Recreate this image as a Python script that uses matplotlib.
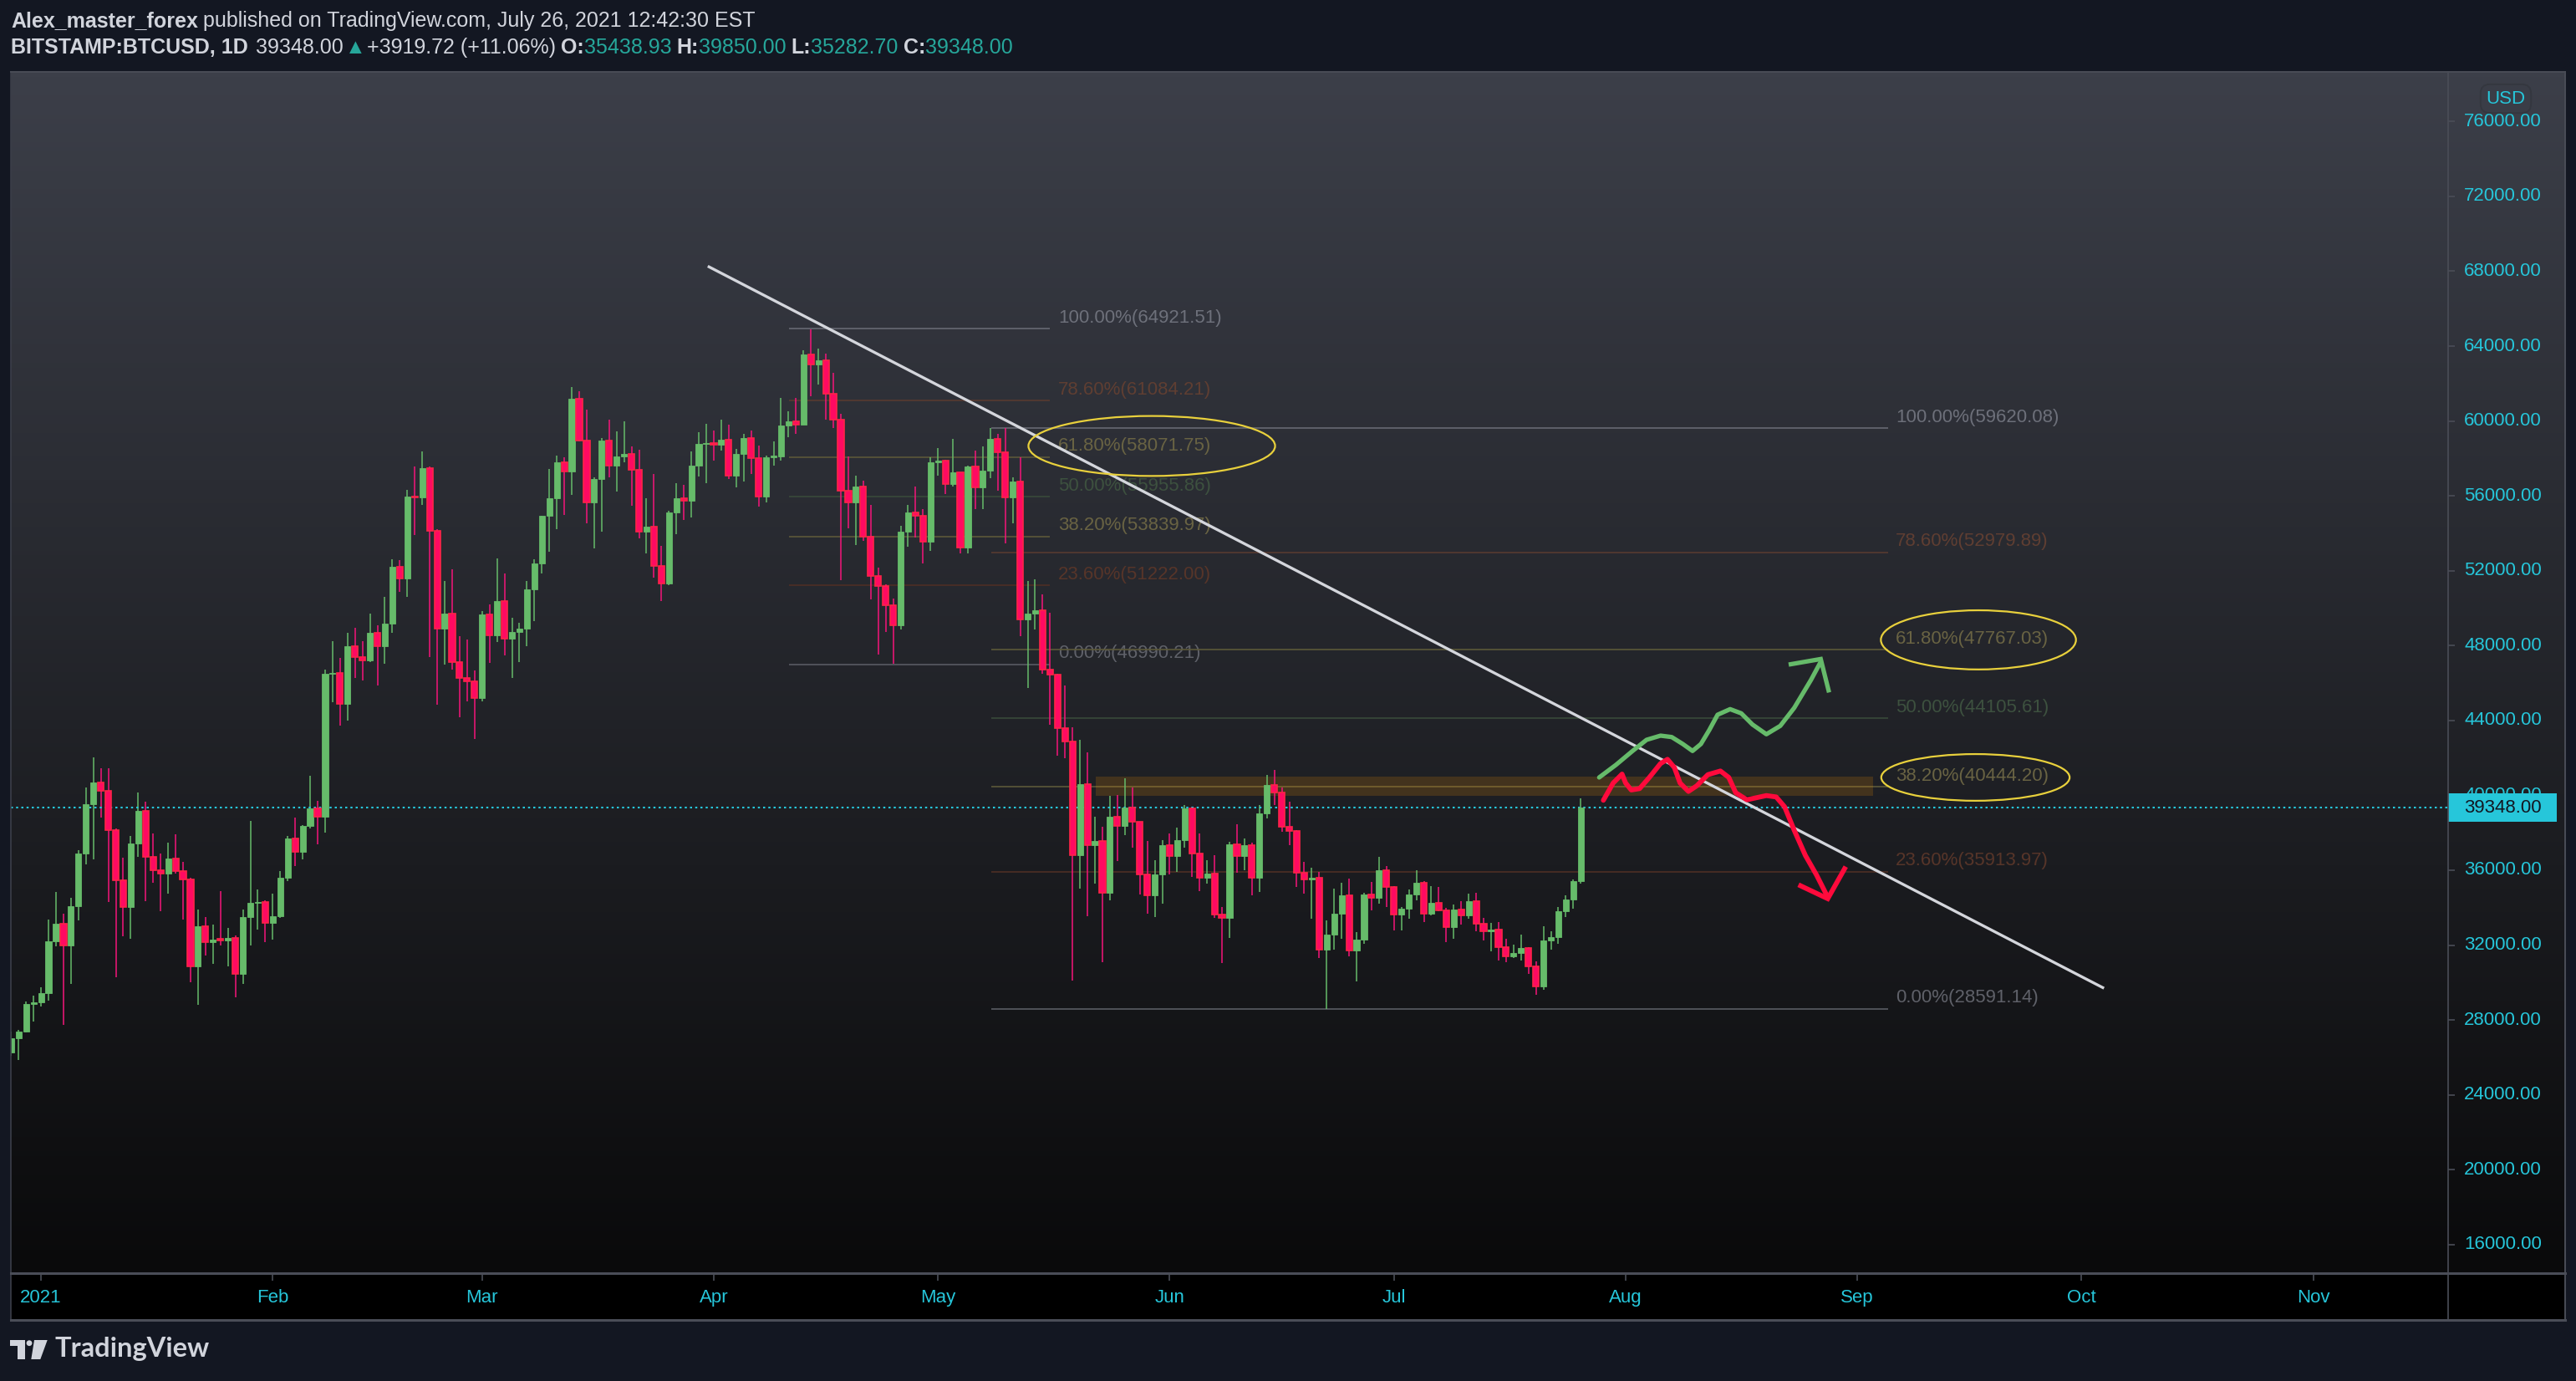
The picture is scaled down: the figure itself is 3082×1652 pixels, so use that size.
import matplotlib
matplotlib.use('Agg')
import matplotlib.pyplot as plt
import matplotlib.dates as mdates
from matplotlib.patches import Rectangle, Ellipse, Polygon
from matplotlib.lines import Line2D
import numpy as np
import pandas as pd

plt.rcParams['font.family'] = ['Liberation Sans', 'DejaVu Sans']

# BITSTAMP:BTCUSD daily candles, first candle 2020-12-28
first_day = '2020-12-28'
opens = [26240, 27020, 27380, 28870,
         28960, 29430, 32220, 33120, 31990, 34080, 36880, 39520, 40690, 40220, 38140, 35460, 34040, 37420, 39190, 36710,
         36010, 35820, 36640, 35940, 35520, 30860, 33010, 32150, 32290, 32250, 32400, 30440, 33480, 34250, 34310,
         33170, 33530, 35580, 37710, 37000, 38350, 39320, 38840, 46480, 46540, 44900, 47980, 47380, 47190, 48700, 47950,
         49170, 52200, 51580, 55950, 55900, 57480, 54150, 48890, 49700, 47110, 46290, 46090,
         45220, 49660, 48550, 50360, 48380, 48740, 48910, 50990, 52410, 54920, 55860, 57790, 57280, 61190, 58970, 55640,
         56920, 58940, 57620, 58120, 58260, 57400, 54070, 54360, 52270, 51330, 55130, 55860, 55730, 57600, 58770,
         58830, 58750, 58990, 57060, 58220, 59110, 58000, 55950, 58080, 58100, 59740, 59960, 59820, 63550, 63000, 63250,
         61450, 60080, 56260, 55670, 56500, 53810, 51730, 51190, 50140, 49100, 54080, 55110, 54940, 53570,
         57800, 57900, 56650, 57240, 53220, 57560, 56460, 57360, 59030, 58340, 55900, 56770, 49400, 49720, 49870, 46710,
         46460, 43600, 42860, 36810, 40610, 37350, 37550, 34780, 38870, 38380, 39360, 38575, 35760, 34660, 35760,
         37350, 36740, 37600, 39310, 36910, 35590, 35830, 33630, 33440, 37400, 36740, 37350, 35590, 39020, 40550, 40170,
         38334, 38080, 35866, 35500, 35600, 31740, 32560, 33660, 34660, 31690, 32300, 34700, 34510, 35980,
         35110, 33640, 33940, 34700, 35330, 33660, 34255, 33850, 32960, 33900, 33600, 34330, 33160, 32750, 32840, 31910,
         31420, 31590, 31830, 30880, 29810, 32240, 32420, 33800, 34430, 35438.93]
highs = [27400, 27470, 29000, 29310,
         29740, 33360, 34820, 33690, 34520, 37070, 40420, 42030, 41450, 41450, 38220, 36650, 37820, 40140, 39670, 37970,
         36880, 37470, 37900, 36430, 35600, 33880, 33480, 33090, 34900, 32930, 32530, 33880, 38640, 34950, 34390,
         34750, 35970, 37820, 38790, 38400, 41040, 39720, 46720, 48230, 47360, 48700, 48960, 48230, 49720, 49080, 50600,
         52630, 52550, 56320, 57570, 58380, 57570, 54240, 51470, 52070, 48500, 48340, 46670,
         49850, 50220, 52650, 51850, 49490, 49200, 51450, 52600, 54950, 57430, 58140, 58080, 61810, 61580, 60600, 57010,
         59110, 60050, 59460, 59970, 58650, 58460, 55860, 57190, 53310, 55200, 56680, 56580, 58390, 59400, 59850,
         59490, 60050, 59790, 58510, 59320, 59490, 58680, 58150, 58900, 61240, 60530, 61240, 63770, 64900, 63850, 63580,
         62580, 60400, 58090, 57070, 56820, 55520, 52170, 51260, 50500, 54380, 55520, 56500, 55290, 58050,
         58540, 57930, 59030, 57250, 57600, 58420, 58660, 59640, 59330, 59640, 57000, 58050, 51430, 51550, 50750, 49760,
         46500, 45870, 43640, 42980, 42300, 38870, 38330, 39970, 40030, 40900, 40410, 38600, 37540, 36540, 37600,
         37960, 38280, 39500, 39400, 37960, 36540, 36810, 34040, 37500, 38460, 37680, 37450, 39460, 41090, 41365, 40400,
         39660, 38150, 36440, 36130, 35900, 33318, 35020, 35320, 35540, 32700, 34790, 35360, 36700, 36200,
         35170, 34030, 34970, 36000, 35400, 35170, 35100, 33990, 34170, 34350, 34750, 34800, 33450, 33200, 33230, 32340,
         32020, 32550, 31910, 31150, 33010, 32750, 34030, 34650, 35520, 39850]
lows = [26100, 25840, 27320, 27920,
        28720, 29030, 31940, 27730, 29930, 33330, 36310, 36600, 38790, 34300, 30260, 32460, 32340, 36710, 34350, 35340,
        33830, 34770, 35800, 33360, 30020, 28790, 31440, 30990, 31990, 30870, 29190, 29930, 31990, 32820, 32150,
        32290, 33460, 35420, 36200, 36600, 38240, 37380, 38010, 44990, 43740, 43990, 46260, 46140, 47120, 45890, 47050,
        48670, 50850, 50610, 53900, 55520, 47400, 44840, 46970, 46720, 44160, 45010, 42990,
        45010, 47060, 48190, 47490, 46290, 47110, 47960, 49330, 51850, 53000, 54240, 54980, 56070, 58900, 54520, 53210,
        54100, 57000, 56240, 57790, 55490, 53730, 52920, 51640, 50360, 51250, 53950, 54700, 54830, 57020, 56680,
        57880, 58420, 56920, 56460, 56770, 57180, 55430, 55650, 57620, 57870, 59150, 59330, 59800, 61300, 61960, 60060,
        59640, 51510, 54250, 53390, 53590, 50450, 47520, 48740, 47020, 48880, 53270, 53760, 52370, 53080,
        57070, 56090, 56500, 52910, 52910, 55280, 55280, 56940, 56260, 53470, 54540, 48490, 45720, 48870, 46480, 43770,
        42130, 42000, 30120, 35020, 33550, 35270, 31100, 34410, 36490, 37890, 37225, 34700, 33675, 33480, 34215,
        35760, 35930, 37225, 35640, 34900, 35270, 33440, 31030, 32400, 35880, 36000, 34660, 34850, 38754, 39495, 38050,
        37350, 35120, 34750, 33420, 31330, 28600, 31770, 32350, 31400, 30050, 32080, 33870, 34200, 34050,
        32790, 32790, 33420, 34380, 33230, 33600, 33810, 32150, 32330, 33080, 33420, 32740, 32250, 31670, 31190, 31100,
        31310, 31190, 30480, 29360, 29590, 31770, 32080, 33500, 33940, 35282.70]
closes = [27020, 27380, 28870, 28960,
          29430, 32220, 33120, 31990, 34080, 36880, 39520, 40690, 40220, 38140, 35460, 34040, 37420, 39190, 36710, 36010,
          35820, 36640, 35940, 35520, 30860, 33010, 32150, 32290, 32250, 32400, 30440, 33480, 34250, 34310, 33170,
          33530, 35580, 37710, 37000, 38350, 39320, 38840, 46480, 46540, 44900, 47980, 47380, 47190, 48700, 47950, 49170,
          52200, 51580, 55950, 55900, 57480, 54150, 48890, 49700, 47110, 46290, 46090, 45220,
          49660, 48550, 50360, 48380, 48740, 48910, 50990, 52410, 54920, 55860, 57790, 57280, 61190, 58970, 55640, 56920,
          58940, 57620, 58120, 58260, 57400, 54070, 54360, 52270, 51330, 55130, 55860, 55730, 57600, 58770, 58830,
          58750, 58990, 57060, 58220, 59110, 58000, 55950, 58080, 58100, 59740, 59960, 59820, 63550, 63000, 63250, 61450,
          60080, 56260, 55670, 56500, 53810, 51730, 51190, 50140, 49100, 54080, 55110, 54940, 53570, 57800,
          57900, 56650, 57240, 53220, 57560, 56460, 57360, 59030, 58340, 55900, 56770, 49400, 49720, 49870, 46710, 46460,
          43600, 42860, 36810, 40610, 37350, 37550, 34780, 38870, 38380, 39360, 38575, 35760, 34660, 35760, 37350,
          36740, 37600, 39310, 36910, 35590, 35830, 33630, 33440, 37400, 36740, 37350, 35590, 39020, 40550, 40170, 38334,
          38080, 35866, 35500, 35600, 31740, 32560, 33660, 34660, 31690, 32300, 34700, 34510, 35980, 35110,
          33640, 33940, 34700, 35330, 33660, 34255, 33850, 32960, 33900, 33600, 34330, 33160, 32750, 32840, 31910, 31420,
          31590, 31830, 30880, 29810, 32240, 32420, 33800, 34430, 35440, 39348]

last_price = 39348.00
y_ticks = list(range(16000, 80000, 4000))
month_starts = ['2021-01-01', '2021-02-01', '2021-03-01', '2021-04-01', '2021-05-01', '2021-06-01',
                '2021-07-01', '2021-08-01', '2021-09-01', '2021-10-01', '2021-11-01']
month_labels = ['2021', 'Feb', 'Mar', 'Apr', 'May', 'Jun', 'Jul', 'Aug', 'Sep', 'Oct', 'Nov']

# fibonacci retracements (x in days after 2021-01-01)
fib_ratios = [1.0, 0.786, 0.618, 0.5, 0.382, 0.236, 0.0]
fib_line_cols = ['#666973', '#583a30', '#5c5839', '#39493a', '#5c5839', '#4d2f25', '#595b63']
fib_text_cols = ['#6d707a', '#5f3e32', '#696343', '#3d513f', '#696343', '#573529', '#5f6169']
fib1_high, fib1_low = 64921.51, 46990.21
fib1_span = [100.1, 135.0]
fib2_high, fib2_low = 59620.08, 28591.14
fib2_span = [127.1, 247.1]

# drawings (days after 2021-01-01, price)
trend_days = [89.2, 276.0]
trend_prices = [68270, 29693]
zone_days = [141.1, 245.1]
zone_prices = [39987, 40987]
ellipses = [(148.6, 58665, 33.0, 3205), (259.2, 48306, 26.1, 3161), (258.8, 40957, 25.2, 2493)]
green_days = [208.46, 210.7, 212.93, 214.8, 216.67, 218.16, 219.65, 220.95, 222.07, 223.19, 224.3, 225.98,
              227.47, 228.97, 230.83, 232.69, 234.56, 235.68, 236.8, 238.1]
green_prices = [40956, 41626, 42371, 42966, 43189, 43114, 42742, 42371, 42742, 43488, 44305, 44604,
                44381, 43783, 43264, 43711, 44676, 45422, 46168, 47133]
green_head_days = [233.81, 238.1, 239.22]
green_head_prices = [46985, 47282, 45496]
red_days = [209.02, 210.33, 211.52, 212.0, 212.75, 213.87, 215.17, 216.67, 217.6, 218.53, 219.28, 220.4,
            221.52, 223.0, 224.68, 225.8, 226.73, 228.22, 230.83, 232.14, 233.26, 234.56, 236.05, 237.54, 239.04]
red_prices = [39736, 40657, 41135, 40657, 40286, 40360, 40956, 41700, 41924, 41478, 40657, 40210,
              40509, 41104, 41300, 40956, 40138, 39763, 39987, 39914, 39393, 38129, 36788, 35744, 34556]
red_head_days = [235.12, 239.04, 241.45]
red_head_prices = [35222, 34480, 36190]

UP = '#66bb6a'
DOWN = '#ff0a62'
DOWN_EDGE = '#ff2448'
DOWN_WICK = '#f5157a'
CYAN = '#26c6da'
TEXT = '#d1d4dc'
TEAL = '#26a69a'
GRID = '#4a4d57'

W, H = 3082, 1652
fig = plt.figure(figsize=(W / 100, H / 100), dpi=100, facecolor='#131722')


def box(x0, y0, x1, y1):
    return [x0 / W, 1 - y1 / H, (x1 - x0) / W, (y1 - y0) / H]


base = mdates.date2num(pd.Timestamp('2021-01-01'))


def dn(day):
    return base + np.asarray(day, dtype=float)


xlim = (dn(-4.04), dn(322.04))
ylim = (14471, 78651)

# background gradient of pane and price scale
bg = fig.add_axes(box(13, 86, 3070, 1523))
g = np.linspace(0, 1, 256)[:, None, None]
top = np.array([60, 63, 73]) / 255
bot = np.array([10, 10, 11]) / 255
bg.imshow(top * (1 - g) + bot * g, aspect='auto', extent=[0, 1, 0, 1])
bg.axis('off')

ax = fig.add_axes(box(13, 86, 2929, 1523))
ax.patch.set_alpha(0)
ax.set_xlim(xlim)
ax.set_ylim(ylim)
ax.axis('off')

# fib levels
for high, low, span, lab_x in [(fib1_high, fib1_low, fib1_span, 136.1), (fib2_high, fib2_low, fib2_span, 248.1)]:
    for r, lc, tc in zip(fib_ratios, fib_line_cols, fib_text_cols):
        lvl = low + r * (high - low)
        ax.hlines(lvl, dn(span[0]), dn(span[1]), colors=lc, lw=1.2, zorder=1)
        ax.annotate(f'{r * 100:.2f}%({lvl + 0.001:.2f})', xy=(dn(lab_x), lvl), xytext=(0, 13),
                    textcoords='offset pixels', ha='left', va='center', fontsize=16, color=tc, zorder=1)

# resistance zone
ax.add_patch(Rectangle((dn(zone_days[0]), zone_prices[0]), zone_days[1] - zone_days[0],
                       zone_prices[1] - zone_prices[0], fc='#ff9800', alpha=0.17, lw=0, zorder=2))

# candles
d = mdates.date2num(pd.date_range(first_day, periods=len(opens), freq='D'))
o, h, l, c = (np.array(v, dtype=float) for v in (opens, highs, lows, closes))
h = np.maximum(h, np.maximum(o, c))
l = np.minimum(l, np.minimum(o, c))
up = c >= o
ax.vlines(d[up], l[up], h[up], colors=UP, lw=1.1, zorder=3)
ax.vlines(d[~up], l[~up], h[~up], colors=DOWN_WICK, lw=1.1, zorder=3)
body = np.maximum(np.abs(c - o), 70)
bottom = np.minimum(o, c)
ax.bar(d[up], body[up], bottom=bottom[up], width=0.8, color=UP, edgecolor=UP, lw=0.6, zorder=4)
ax.bar(d[~up], body[~up], bottom=bottom[~up], width=0.8, color=DOWN, edgecolor=DOWN_EDGE, lw=1.2, zorder=4)

# last price line
ax.axhline(last_price, color=CYAN, lw=1.5, ls=(0, (1.2, 1.8)), zorder=3)

# trend line, ellipses, arrows
ax.plot(dn(trend_days), trend_prices, color='#d4d6dc', lw=2.4, zorder=5, solid_capstyle='butt')
for cx, cy, ew, eh in ellipses:
    ax.add_patch(Ellipse((dn(cx), cy), ew, eh, fill=False, ec='#e8d03c', lw=1.6, zorder=6))
ax.plot(dn(green_days), green_prices, color=UP, lw=3.8, zorder=7,
        solid_capstyle='round', solid_joinstyle='round')
ax.plot(dn(green_head_days), green_head_prices, color=UP, lw=3.8, zorder=7,
        solid_capstyle='butt', solid_joinstyle='miter')
ax.plot(dn(red_days), red_prices, color='#ff0a3c', lw=4.2, zorder=7,
        solid_capstyle='round', solid_joinstyle='round')
ax.plot(dn(red_head_days), red_head_prices, color='#ff0a3c', lw=4.2, zorder=7,
        solid_capstyle='butt', solid_joinstyle='miter')

# price scale
axr = fig.add_axes(box(2929, 86, 3070, 1523))
axr.patch.set_alpha(0)
axr.set_xlim(0, 1)
axr.set_ylim(ylim)
axr.axis('off')
axr.hlines(y_ticks, 0, 0.057, colors=GRID, lw=1.2)
for v in y_ticks:
    axr.text(0.135, v, f'{v:.2f}', ha='left', va='center', fontsize=16, color=CYAN)
axr.add_patch(Rectangle((0, last_price - 737), 0.92, 1474, fc=CYAN, lw=0, zorder=5))
axr.text(0.135, last_price, f'{last_price:.2f}', ha='left', va='center', fontsize=16,
         color='#131722', zorder=6)
fig.text(2998 / W, 1 - 118 / H, 'USD', ha='center', va='center', fontsize=16, color=CYAN,
         bbox=dict(boxstyle='round,pad=0.3,rounding_size=0.5', fc='#3a3d47', ec='#34373f', lw=1.4))

# time scale
fig.add_artist(Rectangle((13 / W, 1 - 1579 / H), (3070 - 13) / W, 56 / H,
                         transform=fig.transFigure, fc='black', lw=0, zorder=-1))
axt = fig.add_axes(box(13, 1523, 2929, 1579))
axt.patch.set_alpha(0)
axt.set_xlim(xlim)
axt.set_ylim(0, 1)
axt.axis('off')
md = mdates.date2num(pd.to_datetime(month_starts))
axt.vlines(md, 0.84, 1.0, colors=GRID, lw=1.2)
for x, lab in zip(md, month_labels):
    axt.text(x, 0.48, lab, ha='center', va='center', fontsize=16, color=CYAN)

# frame lines
def fline(x0, y0, x1, y1, lw=1.5, color=GRID):
    fig.add_artist(Line2D([x0 / W, x1 / W], [1 - y0 / H, 1 - y1 / H], transform=fig.transFigure,
                          color=color, lw=lw, zorder=3))


fline(13, 86, 13, 1579, lw=1.2, color='#3b3e49')
fline(3069, 86, 3069, 1579, lw=1.4)
fline(13, 86, 3069, 86, lw=1.4)
fline(2929, 86, 2929, 1579, lw=1.2)
fline(13, 1523, 3069, 1523, lw=2.2)
fline(13, 1579, 3069, 1579, lw=2.2)

# header
renderer = fig.canvas.get_renderer()


def runs(x, y, parts, size=18):
    for gap, txt, color, weight in parts:
        x += gap
        t = fig.text(x / W, 1 - y / H, txt, ha='left', va='center', fontsize=size, color=color,
                     fontweight=weight)
        x = t.get_window_extent(renderer=renderer).x1


sp = 6
runs(13, 25, [(0, 'Alex_master_forex', TEXT, 'bold'),
              (sp, 'published on TradingView.com, July 26, 2021 12:42:30 EST', TEXT, 'normal')])
runs(13, 57, [(0, 'BITSTAMP:BTCUSD, 1D', TEXT, 'bold'),
              (sp + 3, '39348.00', TEXT, 'normal'),
              (2, '\u25b2', TEAL, 'normal'),
              (2, '+3919.72 (+11.06%)', TEXT, 'normal'),
              (sp, 'O:', TEXT, 'bold'), (0, '35438.93', TEAL, 'normal'),
              (sp, 'H:', TEXT, 'bold'), (0, '39850.00', TEAL, 'normal'),
              (sp, 'L:', TEXT, 'bold'), (0, '35282.70', TEAL, 'normal'),
              (sp, 'C:', TEXT, 'bold'), (0, '39348.00', TEAL, 'normal')])

# TradingView logo
logo = '#d1d4dc'


def P(x, y):
    return (x / W, 1 - y / H)


fig.add_artist(Polygon([P(12, 1603), P(30, 1603), P(30, 1626), P(20.7, 1626), P(20.7, 1610), P(12, 1610)],
                       closed=True, transform=fig.transFigure, fc=logo, lw=0))
fig.add_artist(Ellipse(P(35, 1606.7), 6.8 / W, 6.8 / H, transform=fig.transFigure, fc=logo, lw=0))
fig.add_artist(Polygon([P(41, 1603), P(56.7, 1603), P(48.3, 1626), P(37.3, 1626)],
                       closed=True, transform=fig.transFigure, fc=logo, lw=0))
fig.text(66 / W, 1 - 1614 / H, 'TradingView', ha='left', va='center', fontsize=23.5, color=logo,
         fontweight='bold', family=['Lato', 'DejaVu Sans'])

fig.savefig('out.png', dpi=100, facecolor=fig.get_facecolor())
